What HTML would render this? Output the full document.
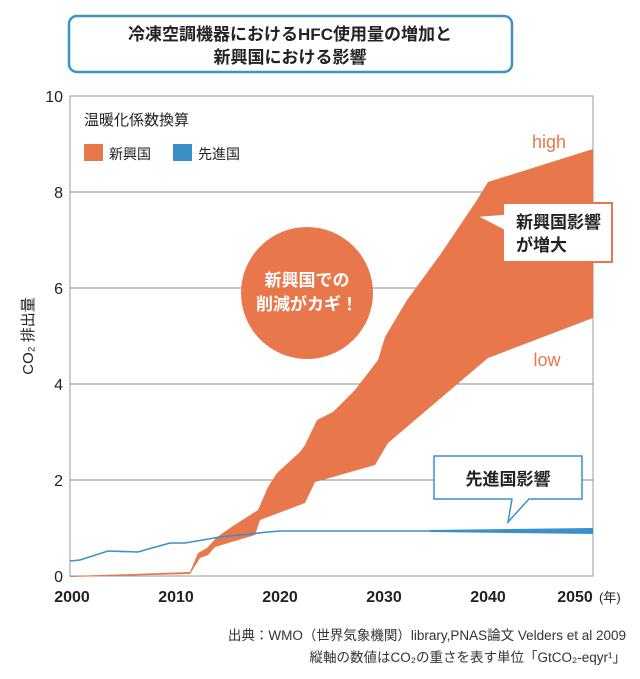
<!DOCTYPE html>
<html><head><meta charset="utf-8"><style>
html,body{margin:0;padding:0;background:#fff;}
svg{display:block;font-family:"Liberation Sans","Noto Sans CJK JP",sans-serif;}
</style></head><body>
<svg width="640" height="679" viewBox="0 0 640 679" xmlns="http://www.w3.org/2000/svg">
<rect x="69" y="16" width="443" height="56" rx="8" fill="#fff" stroke="#3a95c4" stroke-width="2.5"/>
<text x="290" y="40" font-size="17" font-weight="bold" text-anchor="middle" fill="#222">冷凍空調機器におけるHFC使用量の増加と</text>
<text x="290" y="63" font-size="17" font-weight="bold" text-anchor="middle" fill="#222">新興国における影響</text>
<g stroke="#888" stroke-width="1">
<line x1="70" y1="192" x2="593" y2="192"/>
<line x1="70" y1="288" x2="593" y2="288"/>
<line x1="70" y1="384" x2="593" y2="384"/>
<line x1="70" y1="480" x2="593" y2="480"/>
</g>
<rect x="70" y="96" width="523" height="480" fill="none" stroke="#999" stroke-width="1"/>
<polygon fill="#e8784c" points="70,576 190,572 198,553 207,548 217,537 233,526 258,510 268,487 277,473 300,452 305,445 317,420 333,412 355,390 378,360 385,337 407,300 440,255 477,200 488,182 593,149 593,318 488,358 388,443 375,465 333,477 315,482 305,503 260,520 255,535 215,547 208,555 200,558 190,574 70,577"/>
<polyline fill="none" stroke="#3d8fca" stroke-width="1.6" points="70,561 80,560 108,551 138,552 152,548 170,543 185,543 220,537 250,534 268,532 280,531 593,531"/>
<polygon fill="#3d8fca" points="430,530 593,528 593,534 430,532"/>
<g font-size="16" fill="#222" text-anchor="end">
<text x="63" y="102">10</text><text x="63" y="198">8</text><text x="63" y="294">6</text>
<text x="63" y="390">4</text><text x="63" y="486">2</text><text x="63" y="582">0</text>
</g>
<g font-size="16" font-weight="bold" fill="#222" text-anchor="middle">
<text x="72" y="602">2000</text><text x="176" y="602">2010</text><text x="280" y="602">2020</text>
<text x="384" y="602">2030</text><text x="488" y="602">2040</text><text x="575" y="602">2050</text>
</g>
<text x="599" y="602" font-size="13" fill="#222">(年)</text>
<text transform="translate(33,336) rotate(-90)" font-size="15" fill="#222" text-anchor="middle">CO₂ 排出量</text>
<text x="84" y="125" font-size="15" fill="#222">温暖化係数換算</text>
<rect x="84" y="144" width="19" height="17" fill="#e8784c"/>
<text x="109" y="159" font-size="14" fill="#222">新興国</text>
<rect x="173" y="144" width="19" height="17" fill="#3d8fca"/>
<text x="198" y="159" font-size="14" fill="#222">先進国</text>
<text x="549" y="148" font-size="18" fill="#e8784c" text-anchor="middle">high</text>
<text x="547" y="366" font-size="18" fill="#e8784c" text-anchor="middle">low</text>
<circle cx="307" cy="293" r="66" fill="#e8784c"/>
<text x="307" y="286" font-size="17" font-weight="bold" fill="#fff" text-anchor="middle">新興国での</text>
<text x="307" y="310" font-size="17" font-weight="bold" fill="#fff" text-anchor="middle">削減がカギ！</text>
<path d="M503,203 H612 V262 H503 V230 L476,216 L503,214 Z" fill="#fff" stroke="#e8784c" stroke-width="2"/>
<text x="516" y="228" font-size="17" font-weight="bold" fill="#222">新興国影響</text>
<text x="516" y="251" font-size="17" font-weight="bold" fill="#222">が増大</text>
<path d="M434,456 H582 V499 H529 L508,522 L512,499 H434 Z" fill="#fff" stroke="#3d8fca" stroke-width="1.5"/>
<text x="508" y="485" font-size="17" font-weight="bold" fill="#222" text-anchor="middle">先進国影響</text>
<text x="626" y="640" font-size="13.5" fill="#333" text-anchor="end">出典：WMO（世界気象機関）library,PNAS論文 Velders et al 2009</text>
<text x="626" y="662" font-size="13.5" fill="#333" text-anchor="end">縦軸の数値はCO₂の重さを表す単位「GtCO₂-eqyr¹」</text>
</svg>
</body></html>
